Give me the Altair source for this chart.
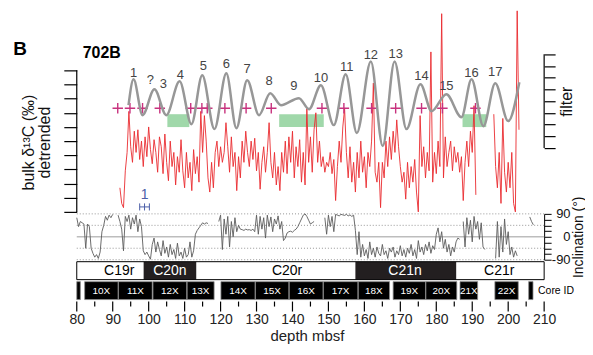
import altair as alt
import numpy as np
import pandas as pd

# ---------------- data ----------------
# bulk d13C, detrended (one left-axis tick per unit); None = no data
d13c_start = 92.0
d13c_step = 0.5
d13c_vals = [
    1.7, 0.6, 0.3, 2.9, 4.2, 7.1, 4.6, 3.5, 5.7, 4.2,
    5.8, 3.7, 5.0, 3.2, 5.3, 3.9, 6.0, 4.4, 3.4, 5.1,
    4.2, 2.8, 5.3, 4.6, 2.7, 5.5, 3.5, 2.2, 5.0, 3.2,
    4.2, 1.9, 3.9, 2.8, 5.1, 2.9, 1.7, 4.2, 2.4, 3.5,
    1.5, 4.4, 2.7, 3.9, 2.1, 7.1, 4.2, 6.8, 5.0, 2.4,
    1.4, 3.5, 1.7, 4.2, 5.0, 3.2, 4.6, 3.5, 4.2, 6.3,
    4.6, 2.8, 5.3, 3.2, 4.2, 1.5, 3.9, 2.4, 5.0, 3.5,
    5.7, 4.2, 3.2, 5.0, 3.7, 5.2, 2.9, 4.2, 1.6, 3.5,
    4.6, 2.8, 4.2, 6.3, 3.5, 2.4, 4.2, 1.9, 3.2, 1.5,
    4.2, 2.8, 5.0, 2.7, 5.3, 3.5, 5.7, 2.4, 4.6, 3.2,
    5.1, 2.1, 4.2, 1.9, 7.3, 3.5, 5.3, 2.8, 5.8, 7.0,
    3.5, 5.0, 3.2, 3.9, 2.8, 3.5, 3.2, 4.2, 2.7, 3.7,
    0.8, 3.2, 5.0, 3.5, 6.0, 7.3, 4.2, 2.4, 4.6, 2.1,
    3.5, 1.4, 4.2, 2.4, 5.0, 2.8, 3.9, 1.7, 4.2, 3.2,
    5.0, 9.1, 2.8, 2.1, 3.5, 0.3, 3.5, 2.4, 5.0, 3.2,
    5.3, 3.7, 5.7, 4.2, 6.5, 4.6, 3.2, 2.1, 2.8, 0.9,
    3.5, 1.7, 3.2, 2.1, 3.7, 1.4, 0.0, 6.8, 3.2, 4.6,
    2.4, 4.2, 2.9, 11.3, 2.1, 4.2, 2.7, 5.0, 3.2, 14.0,
    2.4, 5.3, 3.2, 4.2, 5.0, 2.9, 4.6, 3.5, 4.2, 2.8,
    3.9, 0.8, 3.5, 5.0, 3.2, 5.7, 4.2, 7.5, 1.2, None,
    None, None, None, None, None, None, None, None, 6.9, 3.2,
    1.7, 4.2, 0.6, 6.6, 2.8, 1.4, 3.5, 1.7, 4.2, 0.6,
    0.0, 14.2, 5.8,
]

# band-pass filter output (peaks and troughs)
filt_depth = [94.4, 95.8, 98.3, 101.6, 104.9, 108.6, 111.9, 114.9, 118.3, 121.6,
              124.4, 127.4, 130.7, 133.8, 136.8, 141.8, 144.6, 147.9, 151.5, 154.8,
              157.9, 161.8, 165.1, 168.4, 171.7, 175.6, 178.7, 182.8, 187.0, 189.8,
              193.1, 196.4, 200.0, 203.1]
filt_vals = [3.66, 5.87, 2.81, 5.02, 2.81, 5.70, 2.04, 6.21, 1.62, 6.38,
             1.70, 5.79, 2.81, 4.68, 3.66, 4.26, 3.32, 5.36, 1.96, 6.30,
             1.28, 7.40, 0.17, 7.40, 1.62, 5.45, 3.15, 4.60, 2.64, 5.87,
             1.87, 5.53, 2.30, 5.62]

peak_names = ["1", "?", "3", "4", "5", "6", "7", "8", "9", "10",
              "11", "12", "13", "14", "15", "16", "17"]
peak_depth = [95.8, 100.5, 104.1, 108.8, 115.2, 121.6, 127.4, 133.5, 140.4, 147.9,
              155.1, 161.8, 168.7, 175.9, 182.8, 189.8, 196.4]
peak_level = [6.38, 5.79, 5.45, 6.21, 6.98, 7.15, 6.72, 5.70, 5.28, 5.96,
              6.89, 7.91, 8.00, 6.13, 5.28, 6.38, 6.47]

plus_depth = [91.4, 94.8, 98.3, 103.1, 111.7, 114.8, 116.3, 121.2, 127.1, 134.1,
              148.2, 154.3, 162.0, 168.7, 175.9, 181.7, 190.9]
plus_level = 7.32

green_from = [105.2, 136.3, 187.3]
green_to = [111.3, 148.7, 193.9]
green_lo, green_hi = 5.99, 6.90

# blue tie point 1
tie_depth, tie_lo, tie_hi, tie_level, tie_text_level = 98.85, 97.5, 100.2, 0.35, 1.2

# inclination (deg); None = no data
inc_start = 80.0
inc_step = 0.5
inc_vals = [
    75, 40, 60, 55, 50, -45, 50, 40, -45, -65,
    -80, -70, -85, -60, 20, 45, 80, 65, 85, 75,
    88, None, None, 85, 60, 30, -55, 80, 60, 85,
    30, 75, 50, 85, 20, 70, 40, -55, -70, -60,
    -75, -88, -30, -5, -60, -20, -50, -75, -15, -65,
    -40, -80, -30, -70, -50, -85, -25, -75, -60, -85,
    -45, -80, -70, -20, -80, -55, 10, 25, 35, 45,
    55, 50, 55, 52, None, None, None, None, None, 60,
    85, -50, 70, 10, 80, -40, 60, 0, 75, 20,
    45, 30, 28, 25, 30, 27, 28, 25, 30, 20,
    85, 10, 80, 30, 75, -5, 85, 40, 78, 20,
    70, 50, 82, 30, 60, -15, -5, 15, 20, 22,
    18, 25, 30, 40, 55, 70, 85, 90, 80, 65,
    50, 55, 60, None, None, None, None, None, 75, 10,
    85, 40, 80, 20, 88, 85, 82, 88, 86, 84,
    88, 82, 86, 80, 85, 25, -70, 20, -80, -30,
    -75, -50, -85, -20, -70, -45, -80, -40, -65, -75,
    -30, -70, -55, -85, -45, -60, -40, -80, -55, -70,
    -35, -75, -50, -80, -45, -65, -30, -75, -50, -85,
    -15, -60, -40, -70, -30, -55, -20, -65, -35, -50,
    10, 35, -20, 20, -45, -10, -60, -30, -75, -40,
    -60, -20, -5, -10, None, 60, -40, 75, 10, 65,
    -20, 80, 30, 60, -10, 55, -40, -50, None, None,
    None, None, None, -85, 60, -80, 40, -60, 70, -30,
    20, -70, -40, -80, -55, -75, None, None, None, None,
    None, None, 78, 60, 47,
]
inc_grid = [90, 45, -45, -90]
inc_ticks = [-90, -67.5, -45, -22.5, 0, 22.5, 45, 67.5, 90]

# magnetic chrons
chron_names = ["C19r", "C20n", "C20r", "C21n", "C21r"]
chron_top = [80.0, 98.6, 113.3, 157.5, 185.6]
chron_base = [98.6, 113.3, 157.5, 185.6, 210.0]
chron_pol = ["r", "n", "r", "n", "r"]
chron_label_depth = [91.8, 105.9, 138.5, 171.3, 197.5]

# cores
core_names = ["", "10X", "11X", "12X", "13X", "14X", "15X", "16X", "17X",
              "18X", "19X", "20X", "21X", "22X", ""]
core_top = [80.0, 82.2, 91.6, 101.2, 110.7, 120.1, 129.7, 139.1, 148.6,
            158.3, 168.0, 177.1, 186.6, 196.3, 205.7]
core_base = [81.0, 91.5, 101.0, 110.6, 118.2, 129.6, 139.0, 148.5, 158.2,
             167.0, 177.0, 185.7, 191.5, 202.8, 206.9]

major_ticks = list(range(80, 211, 10))
minor_ticks = list(range(85, 206, 10))

# ---------------- frames ----------------
red_df = pd.DataFrame({"depth": d13c_start + d13c_step * np.arange(len(d13c_vals)),
                       "v": pd.array(d13c_vals, dtype="Float64").astype(float)})
red_df["seg"] = red_df["v"].isna().cumsum()
red_df = red_df.dropna()

inc_df = pd.DataFrame({"depth": inc_start + inc_step * np.arange(len(inc_vals)),
                       "inc": pd.array(inc_vals, dtype="Float64").astype(float)})
inc_df["seg"] = inc_df["inc"].isna().cumsum()
inc_df = inc_df.dropna()

filt_df = pd.DataFrame({"depth": filt_depth, "f": filt_vals})
peak_df = pd.DataFrame({"depth": peak_depth, "f": peak_level, "name": peak_names})
plus_df = pd.DataFrame({"depth": plus_depth, "v": [plus_level] * len(plus_depth)})
green_df = pd.DataFrame({"a": green_from, "b": green_to,
                         "lo": [green_lo] * 3, "hi": [green_hi] * 3})
chron_df = pd.DataFrame({"name": chron_names, "top": chron_top, "base": chron_base,
                         "pol": chron_pol, "lx": chron_label_depth})
core_df = pd.DataFrame({"name": core_names, "top": core_top, "base": core_base})
core_df["mid"] = (core_df["top"] + core_df["base"]) / 2

# ---------------- scales & axes ----------------
W = 469
xscale = alt.Scale(domain=[80, 210], nice=False, zero=False)
vscale = alt.Scale(domain=[0, 14.22], nice=False, zero=False)
fscale = alt.Scale(domain=[-5.45, 11.74], nice=False, zero=False)
iscale = alt.Scale(domain=[-90, 90], nice=False, zero=False)

left_axis = alt.Axis(values=list(range(0, 11)), labels=False, domain=False,
                     tickSize=13, tickColor="black", tickWidth=1.2, grid=False,
                     title=["bulk δ¹³C (‰)", "detrended"], titleFontSize=16,
                     titleFontWeight="normal", titleColor="#111", titleAngle=270,
                     titleX=-48, titleY=132, titleBaseline="middle",
                     titleAlign="center", titleLineHeight=16)
right_axis = alt.Axis(orient="right", values=list(range(0, 9)), labels=False,
                      domain=False, tickSize=11, tickColor="black", tickWidth=1.2,
                      grid=False, title="filter", titleFontSize=16,
                      titleFontWeight="normal", titleColor="#111", titleAngle=270,
                      titleX=22, titleY=91, titleBaseline="middle",
                      titleAlign="center")
inc_axis = alt.Axis(orient="right", values=inc_ticks, domain=True,
                    domainColor="black", tickColor="black", tickSize=7,
                    grid=False, labelOverlap=False, labelFontSize=13,
                    labelColor="#111", labelAlign="right", labelPadding=19,
                    labelExpr="datum.value == 90 ? '90' : datum.value == 0 ? '0' : datum.value == -90 ? '-90' : ''",
                    title="Inclination (°)", titleFontSize=14,
                    titleFontWeight="normal", titleColor="#111", titleAngle=270,
                    titleX=34, titleY=23, titleBaseline="middle",
                    titleAlign="center")
bottom_axis = alt.Axis(values=major_ticks, ticks=False, tickSize=0, domain=False,
                       grid=False, labelFontSize=14, labelColor="#222",
                       labelPadding=1, labelOverlap=False, labelFlush=False,
                       title="depth mbsf", titleFontSize=15,
                       titleFontWeight="normal", titleColor="#222",
                       titleX=231, titleY=32, titleBaseline="bottom")


def X(field):
    return alt.X(f"{field}:Q", scale=xscale, axis=None)


def Yv(field):
    return alt.Y(f"{field}:Q", scale=vscale, axis=left_axis)


def Yf(field):
    return alt.Y(f"{field}:Q", scale=fscale, axis=right_axis)


def Yi(field):
    return alt.Y(f"{field}:Q", scale=iscale, axis=inc_axis)


# ---------------- top panel ----------------
green = alt.Chart(green_df).mark_rect(color="#a0d8aa").encode(
    x=X("a"), x2="b", y=Yv("lo"), y2="hi")
red = alt.Chart(red_df).mark_line(color="#ea2a2f", strokeWidth=0.9).encode(
    x=X("depth"), y=Yv("v"), detail="seg:N")
lrule = alt.Chart(pd.DataFrame({"x": [80], "y0": [0], "y1": [10]})).mark_rule(
    color="black", strokeWidth=1.2).encode(x=X("x"), y=Yv("y0"), y2="y1")
plus = alt.Chart(plus_df).mark_point(
    shape="M-1,0L1,0M0,-1L0,1", filled=False, size=110, color="#c8327e",
    strokeWidth=1.4, opacity=1).encode(x=X("depth"), y=Yv("v"))
tie_h = alt.Chart(pd.DataFrame({"a": [tie_lo], "b": [tie_hi], "v": [tie_level]})).mark_rule(
    color="#4b5ea8", strokeWidth=1).encode(x=X("a"), x2="b", y=Yv("v"))
tie_caps = alt.Chart(pd.DataFrame({"x": [tie_lo, tie_depth, tie_hi],
                                   "y0": [tie_level - 0.25] * 3,
                                   "y1": [tie_level + 0.25] * 3})).mark_rule(
    color="#4b5ea8", strokeWidth=1).encode(x=X("x"), y=Yv("y0"), y2="y1")
tie_txt = alt.Chart(pd.DataFrame({"x": [tie_depth], "v": [tie_text_level], "t": ["1"]})).mark_text(
    color="#4b5ea8", fontSize=14).encode(x=X("x"), y=Yv("v"), text="t:N")
panel_B = alt.Chart(pd.DataFrame({"x": [62.3], "v": [11.48], "t": ["B"]})).mark_text(
    fontSize=19, fontWeight="bold", align="left", color="black").encode(
    x=X("x"), y=Yv("v"), text="t:N")
site = alt.Chart(pd.DataFrame({"x": [81.66], "v": [11.2], "t": ["702B"]})).mark_text(
    fontSize=16, fontWeight="bold", align="left", color="black").encode(
    x=X("x"), y=Yv("v"), text="t:N")

top_left = alt.layer(green, red, lrule, plus, tie_h, tie_caps, tie_txt, panel_B, site)

filt = alt.Chart(filt_df).mark_line(color="#979797", strokeWidth=2.5,
                                    interpolate="monotone").encode(
    x=X("depth"), y=Yf("f"))
rrule = alt.Chart(pd.DataFrame({"x": [210], "y0": [0], "y1": [8]})).mark_rule(
    color="black", strokeWidth=1.2).encode(x=X("x"), y=Yf("y0"), y2="y1")
peaks = alt.Chart(peak_df).mark_text(fontSize=13, color="#444").encode(
    x=X("depth"), y=Yf("f"), text="name:N")
top_right = alt.layer(filt, rrule, peaks)

top = alt.layer(top_left, top_right).resolve_scale(y="independent").properties(
    width=W, height=202)

# ---------------- inclination ----------------
dotted = alt.Chart(pd.DataFrame({"g": inc_grid})).mark_rule(
    color="#8a8a8a", strokeDash=[1, 2], strokeWidth=0.9).encode(y=Yi("g"))
zero = alt.Chart(pd.DataFrame({"g": [0]})).mark_rule(
    color="#bdbdbd", strokeWidth=1.6).encode(y=Yi("g"))
inc_line = alt.Chart(inc_df).mark_line(color="#5c5c5c", strokeWidth=0.9).encode(
    x=X("depth"), y=Yi("inc"), detail="seg:N")
inc = alt.layer(dotted, zero, inc_line).properties(width=W, height=46)

# ---------------- chrons ----------------
chron_rect = alt.Chart(chron_df).mark_rect().encode(
    x=X("top"), x2="base",
    color=alt.condition("datum.pol == 'n'", alt.value("#231f20"), alt.value("white")))
chron_box = alt.Chart(pd.DataFrame({"a": [80], "b": [210]})).mark_rect(
    fillOpacity=0, stroke="black", strokeWidth=1).encode(x=X("a"), x2="b")
chron_txt = alt.Chart(chron_df).mark_text(fontSize=14).encode(
    x=X("lx"), text="name:N",
    color=alt.condition("datum.pol == 'n'", alt.value("white"), alt.value("black")))
chron = alt.layer(chron_rect, chron_box, chron_txt).properties(width=W, height=18)

# ---------------- cores ----------------
core_rect = alt.Chart(core_df).mark_rect(color="black", stroke="#8a8a8a",
                                         strokeWidth=0.8).encode(x=X("top"), x2="base")
core_txt = alt.Chart(core_df).mark_text(fontSize=10, color="white").encode(
    x=X("mid"), text="name:N")
core_id = alt.Chart(pd.DataFrame({"x": [208.3], "t": ["Core ID"]})).mark_text(
    fontSize=10.5, color="black", align="left").encode(x=X("x"), text="t:N")
core = alt.layer(core_rect, core_txt, core_id).properties(width=W, height=18)

# ---------------- depth ticks ----------------
tick_major = alt.Chart(pd.DataFrame({"t": major_ticks})).mark_rule(
    color="black", strokeWidth=1.2).encode(
    x=alt.X("t:Q", scale=xscale, axis=bottom_axis))
tick_minor = alt.Chart(pd.DataFrame({"t": minor_ticks, "a": [1.0] * len(minor_ticks),
                                     "b": [0.5] * len(minor_ticks)})).mark_rule(
    color="black", strokeWidth=1.2).encode(
    x=alt.X("t:Q", scale=xscale, axis=bottom_axis),
    y=alt.Y("a:Q", scale=alt.Scale(domain=[0, 1]), axis=None), y2="b")
ticks = alt.layer(tick_major, tick_minor).properties(width=W, height=10)

chart = alt.vconcat(top, inc, chron, core, ticks, spacing=2, bounds="flush").properties(
    padding={"left": 5, "top": 0, "right": 0, "bottom": 0}
).configure(font="Liberation Sans").configure_view(stroke=None)

chart.save("out.html", embed_options={"renderer": "svg", "actions": False})
